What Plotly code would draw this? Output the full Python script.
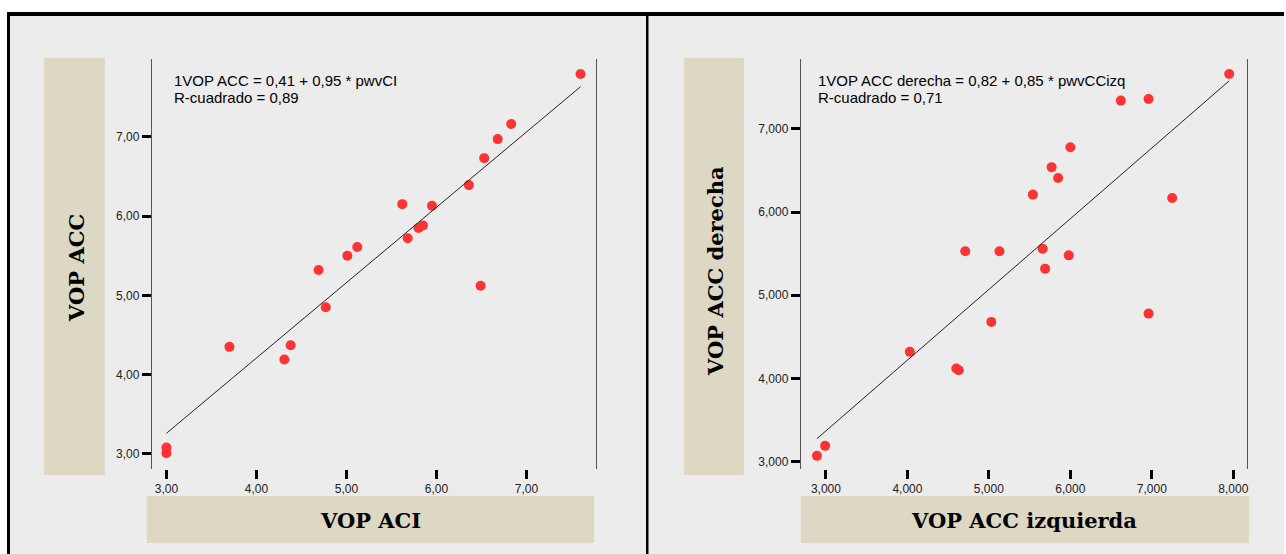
import plotly.graph_objects as go

# Canvas size in pixels
W, H = 1286, 554

# Left panel: VOP ACI vs VOP ACC
aci_x = [3.00, 3.00, 3.70, 4.31, 4.38, 4.69, 4.77, 5.01, 5.12, 5.62,
         5.68, 5.80, 5.85, 5.95, 6.36, 6.49, 6.53, 6.68, 6.83, 7.60]
acc_y = [3.08, 3.01, 4.35, 4.19, 4.37, 5.32, 4.85, 5.50, 5.61, 6.15,
         5.72, 5.85, 5.88, 6.13, 6.39, 5.12, 6.73, 6.97, 7.16, 7.79]
left_fit = (0.41, 0.95)
left_eq = "1VOP ACC = 0,41 + 0,95 * pwvCI"
left_r2 = "R-cuadrado = 0,89"
left_xticks = [3, 4, 5, 6, 7]
left_xlabels = ["3,00", "4,00", "5,00", "6,00", "7,00"]
left_yticks = [3, 4, 5, 6, 7]
left_ylabels = ["3,00", "4,00", "5,00", "6,00", "7,00"]

# Right panel: VOP ACC izquierda vs VOP ACC derecha
izq_x = [2.89, 2.99, 4.03, 4.60, 4.63, 5.03, 4.71, 5.13, 5.66, 5.98,
         5.69, 5.54, 5.77, 5.85, 6.00, 6.62, 6.96, 6.96, 7.25, 7.95]
der_y = [3.07, 3.19, 4.32, 4.12, 4.10, 4.68, 5.53, 5.53, 5.56, 5.48,
         5.32, 6.21, 6.54, 6.41, 6.78, 7.34, 7.36, 4.78, 6.17, 7.66]
right_fit = (0.82, 0.85)
right_eq = "1VOP ACC derecha = 0,82 + 0,85 * pwvCCizq"
right_r2 = "R-cuadrado = 0,71"
right_xticks = [3, 4, 5, 6, 7, 8]
right_xlabels = ["3,000", "4,000", "5,000", "6,000", "7,000", "8,000"]
right_yticks = [3, 4, 5, 6, 7]
right_ylabels = ["3,000", "4,000", "5,000", "6,000", "7,000"]

BG = "#ececec"
BEIGE = "#ddd8c4"
RED = "#ff3333"


def px(x):
    return x / W


def py(y):
    return 1 - y / H


fig = go.Figure()


def add_panel(xs, ys, fit, xref, yref):
    fig.add_trace(go.Scatter(
        x=xs, y=ys, mode="markers", xaxis=xref, yaxis=yref,
        marker=dict(color=RED, size=10, line=dict(width=0)),
        showlegend=False, hoverinfo="skip"))
    a, b = fit
    x0, x1 = min(xs), max(xs)
    fig.add_trace(go.Scatter(
        x=[x0, x1], y=[a + b * x0, a + b * x1], mode="lines",
        xaxis=xref, yaxis=yref,
        line=dict(color="#222222", width=1),
        showlegend=False, hoverinfo="skip"))


add_panel(aci_x, acc_y, left_fit, "x", "y")
add_panel(izq_x, der_y, right_fit, "x2", "y2")

tickfont = dict(family="Liberation Sans, Arial, sans-serif", size=12, color="#222")
ydom = [py(469), py(59)]


def xaxis(domain, rng, vals, labels, anchor):
    return dict(domain=domain, range=rng, anchor=anchor, tickmode="array",
                tickvals=vals, ticktext=labels, ticks="outside", ticklen=9,
                tickwidth=3, tickcolor="black", showgrid=False,
                zeroline=False, showline=False, tickfont=tickfont,
                fixedrange=True)


def yaxis(anchor, rng, vals, labels):
    return dict(domain=ydom, range=rng, anchor=anchor, tickmode="array",
                tickvals=vals, ticktext=labels, ticks="outside", ticklen=9,
                tickwidth=3, tickcolor="black", showgrid=False,
                zeroline=False, showline=True, mirror=True,
                linecolor="#555", linewidth=1, tickfont=tickfont,
                fixedrange=True)


def rect(x0, x1, y0, y1, color):
    return dict(type="rect", xref="paper", yref="paper",
                x0=px(x0), x1=px(x1), y0=py(y1), y1=py(y0),
                fillcolor=color, line=dict(width=0), layer="below")


shapes = [
    # grey panel background and black frame
    rect(7, W, 12, H, BG),
    rect(7, W, 12, 16, "black"),
    rect(7, 10, 12, H, "black"),
    rect(647, 649.5, 12, H, "black"),
    # title boxes
    rect(44, 105, 58, 475, BEIGE),
    rect(147, 595, 496, 543, BEIGE),
    rect(685, 745, 58, 475, BEIGE),
    rect(802, 1251, 496, 543, BEIGE),
]

title_font = dict(family="DejaVu Serif, serif", size=21, color="black")
eq_font = dict(family="Liberation Sans, Arial, sans-serif", size=15, color="black")


def ann(x, y, text, font, xanchor="center", angle=0):
    return dict(xref="paper", yref="paper", x=px(x), y=py(y), text=text,
                showarrow=False, font=font, xanchor=xanchor, yanchor="middle",
                textangle=angle)


annotations = [
    ann(76, 268, "<b>VOP ACC</b>", title_font, angle=-90),
    ann(371, 520, "<b>VOP ACI</b>", title_font),
    ann(716, 271, "<b>VOP ACC derecha</b>", title_font, angle=-90),
    ann(1026, 520, "<b>VOP ACC izquierda</b>", title_font),
    ann(172, 80, left_eq, eq_font, xanchor="left"),
    ann(172, 98, left_r2, eq_font, xanchor="left"),
    ann(817, 80, right_eq, eq_font, xanchor="left"),
    ann(817, 98, right_r2, eq_font, xanchor="left"),
]

fig.update_layout(
    width=W, height=H,
    margin=dict(l=0, r=0, t=0, b=0),
    paper_bgcolor="white",
    plot_bgcolor=BG,
    xaxis=xaxis([px(152), px(597)], [2.837, 7.773], left_xticks, left_xlabels, "y"),
    yaxis=yaxis("x", [2.81, 7.98], left_yticks, left_ylabels),
    xaxis2=xaxis([px(802), px(1249)], [2.691, 8.169], right_xticks, right_xlabels, "y2"),
    yaxis2=yaxis("x2", [2.912, 7.84], right_yticks, right_ylabels),
    shapes=shapes,
    annotations=annotations,
)

fig.write_html("out.html")
